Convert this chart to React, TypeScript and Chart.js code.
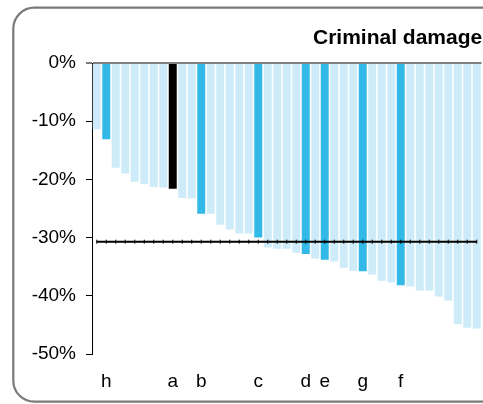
import React, { useEffect, useRef } from "react";
import { Chart, registerables } from "chart.js";

Chart.register(...registerables);

const categories: string[] = [
  "", "h", "", "", "", "", "", "", "a", "", "",
  "b", "", "", "", "", "", "c", "", "", "", "",
  "d", "", "e", "", "", "", "g", "", "", "", "f",
  "", "", "", "", "", "", "", "",
];

const values: number[] = [
  -11.4, -13.1, -18.0, -19.0, -20.4, -20.8, -21.3, -21.4, -21.6, -23.2, -23.3,
  -25.9, -25.9, -27.8, -28.6, -29.3, -29.3, -30.0, -31.7, -31.9, -31.9, -32.6,
  -32.8, -33.6, -33.8, -34.1, -35.2, -35.7, -35.8, -36.4, -37.4, -37.7, -38.2,
  -38.4, -39.1, -39.1, -40.1, -40.8, -44.9, -45.5, -45.6,
];

const highlighted: string[] = ["h", "b", "c", "d", "e", "g", "f"];
const selected: string[] = ["a"];
const averageValue = -30.7;
const yTicks: number[] = [0, -10, -20, -30, -40, -50];
const titleText = "Criminal damage";

const LIGHT = "#cdebf8";
const BLUE = "#33b9e8";
const BLACK = "#000000";
const FONT = "'Liberation Sans', Arial, Helvetica, sans-serif";

const framePlugin = {
  id: "framePlugin",
  beforeDraw(chart: any) {
    const ctx = chart.ctx;
    ctx.save();
    ctx.strokeStyle = "#7a7a7a";
    ctx.lineWidth = 2.2;
    ctx.beginPath();
    ctx.roundRect(13.3, 7.7, 560, 394, 21);
    ctx.stroke();
    ctx.fillStyle = "#000";
    ctx.font = `bold 21px ${FONT}`;
    ctx.textAlign = "left";
    ctx.textBaseline = "alphabetic";
    ctx.fillText(titleText, 313, 44);
    ctx.restore();
  },
};

export default function App() {
  const ref = useRef<HTMLCanvasElement | null>(null);

  useEffect(() => {
    if (!ref.current) return;
    const colors = categories.map((c) =>
      selected.includes(c) ? BLACK : highlighted.includes(c) ? BLUE : LIGHT
    );
    const chart = new Chart(ref.current, {
      type: "bar",
      data: {
        labels: categories,
        datasets: [
          {
            type: "bar",
            data: values,
            backgroundColor: colors,
            borderWidth: 0,
            barPercentage: 0.84,
            categoryPercentage: 1,
            order: 2,
          } as any,
          {
            type: "line",
            data: categories.map(() => averageValue),
            borderColor: "#000",
            borderWidth: 2,
            pointStyle: "line",
            rotation: 90,
            pointRadius: 2,
            pointHoverRadius: 2,
            pointBorderWidth: 1,
            pointBorderColor: "#000",
            pointBackgroundColor: "#000",
            order: 1,
          } as any,
        ],
      },
      options: {
        animation: false,
        responsive: false,
        maintainAspectRatio: false,
        events: [],
        layout: { autoPadding: false, padding: { top: 63, left: 0, right: 1.5, bottom: 0 } },
        plugins: {
          legend: { display: false },
          tooltip: { enabled: false },
          title: { display: false },
        },
        scales: {
          x: {
            offset: true,
            grid: { display: false, drawTicks: false },
            border: { display: false },
            ticks: {
              autoSkip: false,
              maxRotation: 0,
              minRotation: 0,
              color: "#000",
              padding: 16,
              font: { family: FONT, size: 19 },
            },
            afterFit: (s: any) => {
              s.height = 50;
              s.paddingLeft = 0;
              s.paddingRight = 0;
            },
          },
          y: {
            min: -50,
            max: 0,
            z: 1,
            afterBuildTicks: (s: any) => {
              s.ticks = yTicks.map((v) => ({ value: v }));
            },
            grid: {
              drawOnChartArea: true,
              color: (c: any) =>
                c.tick && c.tick.value === 0 ? "#7f7f7f" : "rgba(0,0,0,0)",
              lineWidth: (c: any) => (c.tick && c.tick.value === 0 ? 2 : 1),
              tickColor: "#000",
              tickLength: 6,
              tickWidth: 1,
            },
            border: { display: true, color: "#000", width: 1 },
            ticks: {
              color: "#000",
              padding: 10,
              font: { family: FONT, size: 19 },
              callback: (v: any) => `${v}%`,
            },
            afterFit: (s: any) => {
              s.width = 92;
            },
          },
        },
      },
      plugins: [framePlugin],
    });
    return () => chart.destroy();
  }, []);

  return (
    <div style={{ position: "fixed", left: 0, top: 0, width: 483, height: 404, background: "#fff" }}>
      <canvas ref={ref} width={483} height={404} style={{ display: "block", width: 483, height: 404 }} />
    </div>
  );
}
